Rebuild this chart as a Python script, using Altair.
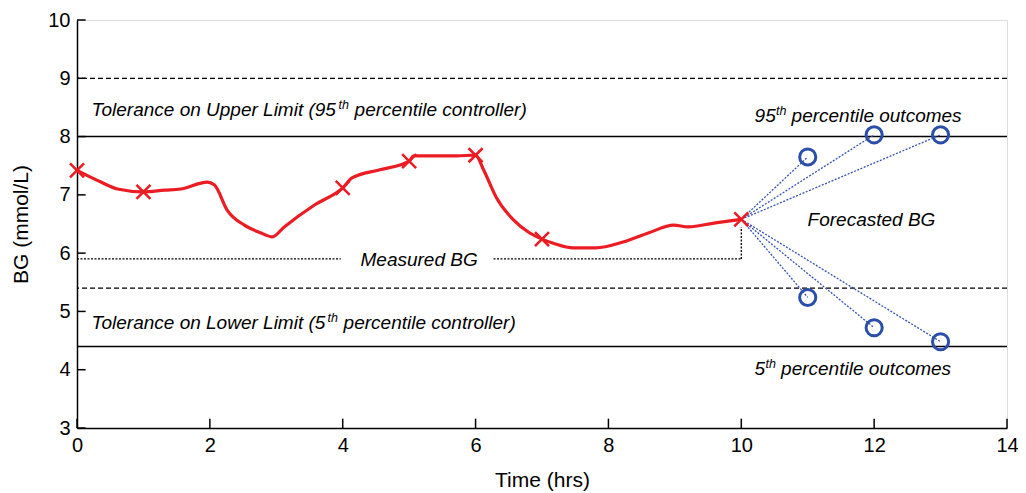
import altair as alt
import pandas as pd

# Measured BG trace (hours, mmol/L)
curve_x = [0, 0.36, 0.61, 1, 1.32, 1.56, 1.96, 2.07, 2.26, 2.52, 2.76, 2.94, 3.12, 3.58, 4, 4.14, 4.56,
           5, 5.07, 5.71, 6, 6.12, 6.31, 6.57, 6.81, 7, 7.17, 7.47, 7.81, 8.22, 8.61, 8.98, 9.2, 9.61, 10]
curve_y = [7.42, 7.22, 7.10, 7.05, 7.08, 7.10, 7.22, 7.17, 6.74, 6.48, 6.35, 6.28, 6.45, 6.83, 7.12, 7.29, 7.43,
           7.58, 7.67, 7.67, 7.68, 7.43, 6.96, 6.57, 6.35, 6.24, 6.17, 6.09, 6.09, 6.19, 6.35, 6.48, 6.45, 6.52, 6.58]

# Measurement markers
meas_x = [0, 1, 4, 5, 6, 7, 10]
meas_y = [7.42, 7.05, 7.12, 7.58, 7.68, 6.24, 6.58]

# Forecast outcomes
fc_x = [11, 12, 13, 11, 12, 13]
fc_y = [7.65, 8.03, 8.03, 5.24, 4.72, 4.48]
fc_origin = (10, 6.58)

# Reference levels
solid_levels = [8.0, 4.4]
dashed_levels = [9.0, 5.4]

# "Measured BG" bracket segments
bracket_x = [0, 6.27, 10]
bracket_x2 = [3.97, 10, 10]
bracket_y = [5.9, 5.9, 5.9]
bracket_y2 = [5.9, 5.9, 6.45]

x_ticks = list(range(0, 15, 2))
y_ticks = list(range(3, 11))

FONT = "Liberation Sans"
xs = alt.Scale(domain=[0, 14], nice=False, zero=False)
ys = alt.Scale(domain=[3, 10], nice=False, zero=False)
xaxis = alt.Axis(values=x_ticks, ticks=False, grid=False, domainColor="black", domainWidth=1.5,
                 labelFontSize=20, titleFontSize=21, labelPadding=7, titlePadding=14,
                 labelFlush=False, labelOverlap=False,
                 labelColor="black", titleColor="black", titleFontWeight="normal",
                 labelFont=FONT, titleFont=FONT, title="Time (hrs)")
yaxis = alt.Axis(values=y_ticks, ticks=False, grid=False, domainColor="black", domainWidth=1.5,
                 labelFontSize=20, titleFontSize=21, labelPadding=7, titlePadding=16,
                 labelFlush=False, labelOverlap=False,
                 labelColor="black", titleColor="black", titleFontWeight="normal",
                 labelFont=FONT, titleFont=FONT, title="BG (mmol/L)")

X = alt.X("x:Q", scale=xs, axis=xaxis)
Y = alt.Y("y:Q", scale=ys, axis=yaxis)

layers = []

# inward ticks
xt = pd.DataFrame({"x": x_ticks, "y": [3] * len(x_ticks), "y2": [3.16] * len(x_ticks)})
layers.append(alt.Chart(xt).mark_rule(color="black", strokeWidth=1.5).encode(x=X, y=Y, y2="y2:Q"))
yt = pd.DataFrame({"x": [0] * len(y_ticks), "x2": [0.13] * len(y_ticks), "y": y_ticks})
layers.append(alt.Chart(yt).mark_rule(color="black", strokeWidth=1.5).encode(x=X, x2="x2:Q", y=Y))

# reference lines
sl = pd.DataFrame({"y": solid_levels})
layers.append(alt.Chart(sl).mark_rule(color="black", strokeWidth=1.5).encode(y=Y))
dl = pd.DataFrame({"y": dashed_levels})
layers.append(alt.Chart(dl).mark_rule(color="black", strokeWidth=1.2, strokeDash=[5, 3]).encode(y=Y))

# bracket
br = pd.DataFrame({"x": bracket_x, "x2": bracket_x2, "y": bracket_y, "y2": bracket_y2})
layers.append(alt.Chart(br).mark_rule(color="black", strokeWidth=1.3, strokeDash=[2, 1.5]).encode(
    x=X, x2="x2:Q", y=Y, y2="y2:Q"))

# forecast dotted lines
fl = pd.DataFrame({"x": [fc_origin[0]] * len(fc_x), "y": [fc_origin[1]] * len(fc_x), "x2": fc_x, "y2": fc_y})
layers.append(alt.Chart(fl).mark_rule(color="#3552b0", strokeWidth=1.3, strokeDash=[2, 1.5]).encode(
    x=X, x2="x2:Q", y=Y, y2="y2:Q"))

# measured curve
cv = pd.DataFrame({"x": curve_x, "y": curve_y})
layers.append(alt.Chart(cv).mark_line(color="#ec1c24", strokeWidth=3.2, interpolate="monotone").encode(x=X, y=Y))

# markers
mk = pd.DataFrame({"x": meas_x, "y": meas_y})
layers.append(alt.Chart(mk).mark_point(shape="M-1,-1L1,1M-1,1L1,-1", size=196, filled=False,
                                       color="#ec1c24", strokeWidth=2.6, opacity=1).encode(x=X, y=Y))

# forecast circles
fc = pd.DataFrame({"x": fc_x, "y": fc_y})
layers.append(alt.Chart(fc).mark_point(shape="circle", size=260, filled=False, color="#2b4fa8",
                                       strokeWidth=3, opacity=1).encode(x=X, y=Y))

def txt(s, x, y, size=19, dx=0, dy=0, align="left"):
    d = pd.DataFrame({"x": [x], "y": [y], "t": [s]})
    return alt.Chart(d).mark_text(text=s, font=FONT, fontSize=size, fontStyle="italic", color="black",
                                  align=align, baseline="alphabetic", dx=dx, dy=dy).encode(x=X, y=Y)

# annotations
layers += [
    txt("Tolerance on Upper Limit (95", 0.22, 8.35),
    txt("th", 0.22, 8.35, size=12.5, dx=247, dy=-7),
    txt("percentile controller)", 0.22, 8.35, dx=263),
    txt("Tolerance on Lower Limit (5", 0.22, 4.70),
    txt("th", 0.22, 4.70, size=12.5, dx=236, dy=-7),
    txt("percentile controller)", 0.22, 4.70, dx=252),
    txt("95", 10.2, 8.25),
    txt("th", 10.2, 8.25, size=12.5, dx=21.5, dy=-7),
    txt("percentile outcomes", 10.2, 8.25, dx=37),
    txt("5", 10.2, 3.91),
    txt("th", 10.2, 3.91, size=12.5, dx=11, dy=-7),
    txt("percentile outcomes", 10.2, 3.91, dx=26.5),
    txt("Forecasted BG", 11.96, 6.47, align="center"),
    txt("Measured BG", 5.15, 5.78, align="center"),
]

chart = alt.layer(*layers).properties(
    width=930, height=408,
    autosize=alt.AutoSizeParams(type="none"),
    padding={"left": 69, "top": 12, "right": 11, "bottom": 65},
).configure_view(stroke=None).configure(background="white")

chart.save("out.html", embed_options={"renderer": "svg", "actions": False})
